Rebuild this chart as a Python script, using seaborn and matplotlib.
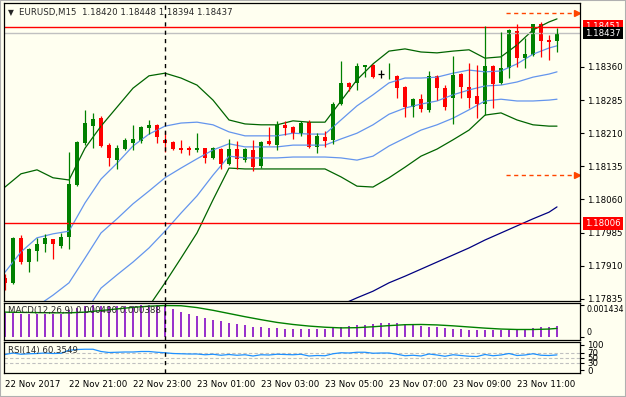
import numpy as np
import pandas as pd
import matplotlib
matplotlib.use("Agg")
from matplotlib import pyplot as plt
import seaborn as sns

# EURUSD M15 candles, 22 Nov 19:00 -> 23 Nov 12:15
opens = [1.17882, 1.17871, 1.17973, 1.17918, 1.17943, 1.17959, 1.17970, 1.17954, 1.17975, 1.18093,
         1.18188, 1.18226, 1.18244, 1.18183, 1.18149, 1.18174, 1.18188, 1.18192, 1.18222, 1.18229,
         1.18195, 1.18190, 1.18176, 1.18176, 1.18172, 1.18176, 1.18154, 1.18174, 1.18140, 1.18174,
         1.18149, 1.18172, 1.18136, 1.18192, 1.18183, 1.18229, 1.18224, 1.18208, 1.18235, 1.18179,
         1.18201, 1.18195, 1.18276, 1.18324, 1.18324, 1.18360, 1.18365, 1.18343, 1.18339, 1.18340,
         1.18315, 1.18269, 1.18287, 1.18263, 1.18340, 1.18312, 1.18290, 1.18344, 1.18315, 1.18294,
         1.18276, 1.18362, 1.18324, 1.18358, 1.18442, 1.18380, 1.18387, 1.18457, 1.18421, 1.18420]
highs = [1.17891, 1.17975, 1.17979, 1.17950, 1.17973, 1.17982, 1.17971, 1.17984, 1.18167, 1.18192,
         1.18263, 1.18256, 1.18249, 1.18188, 1.18183, 1.18199, 1.18229, 1.18226, 1.18240, 1.18231,
         1.18215, 1.18192, 1.18195, 1.18181, 1.18210, 1.18177, 1.18179, 1.18176, 1.18197, 1.18192,
         1.18176, 1.18195, 1.18192, 1.18224, 1.18238, 1.18238, 1.18226, 1.18238, 1.18240, 1.18210,
         1.18215, 1.18281, 1.18374, 1.18326, 1.18369, 1.18365, 1.18367, 1.18353, 1.18369, 1.18342,
         1.18317, 1.18289, 1.18299, 1.18351, 1.18342, 1.18319, 1.18385, 1.18346, 1.18369, 1.18365,
         1.18453, 1.18365, 1.18439, 1.18446, 1.18457, 1.18426, 1.18458, 1.18462, 1.18433, 1.18448]
lows = [1.17855, 1.17869, 1.17914, 1.17895, 1.17920, 1.17941, 1.17925, 1.17950, 1.17948, 1.18090,
        1.18183, 1.18176, 1.18179, 1.18136, 1.18129, 1.18172, 1.18172, 1.18188, 1.18208, 1.18188,
        1.18167, 1.18172, 1.18165, 1.18161, 1.18167, 1.18142, 1.18152, 1.18129, 1.18138, 1.18129,
        1.18145, 1.18124, 1.18131, 1.18183, 1.18172, 1.18206, 1.18197, 1.18204, 1.18176, 1.18165,
        1.18179, 1.18186, 1.18274, 1.18306, 1.18308, 1.18337, 1.18335, 1.18335, 1.18333, 1.18290,
        1.18247, 1.18247, 1.18258, 1.18258, 1.18285, 1.18263, 1.18231, 1.18290, 1.18267, 1.18244,
        1.18251, 1.18267, 1.18322, 1.18335, 1.18360, 1.18358, 1.18385, 1.18383, 1.18376, 1.18394]
closes = [1.17871, 1.17973, 1.17918, 1.17948, 1.17959, 1.17973, 1.17959, 1.17975, 1.18095, 1.18190,
          1.18233, 1.18242, 1.18181, 1.18154, 1.18176, 1.18195, 1.18197, 1.18224, 1.18229, 1.18201,
          1.18188, 1.18174, 1.18172, 1.18172, 1.18176, 1.18154, 1.18176, 1.18140, 1.18174, 1.18152,
          1.18174, 1.18133, 1.18190, 1.18186, 1.18229, 1.18222, 1.18210, 1.18233, 1.18179, 1.18204,
          1.18192, 1.18276, 1.18324, 1.18315, 1.18362, 1.18365, 1.18337, 1.18343, 1.18340, 1.18312,
          1.18269, 1.18287, 1.18265, 1.18340, 1.18312, 1.18269, 1.18342, 1.18315, 1.18290, 1.18276,
          1.18362, 1.18321, 1.18358, 1.18444, 1.18380, 1.18389, 1.18457, 1.18419, 1.18417, 1.18437]

# indicator lines read every second bar
line_bars = [0, 2, 4, 6, 8, 10, 12, 14, 16, 18, 20, 22, 24, 26, 28, 30, 32, 34,
             36, 38, 40, 42, 44, 46, 48, 50, 52, 54, 56, 58, 60, 62, 64, 66, 68, 69]
bb2_upper = [1.18088, 1.18118, 1.18127, 1.18109, 1.18104, 1.18176, 1.18226, 1.18269, 1.18312, 1.18340,
             1.18346, 1.18335, 1.18319, 1.18285, 1.18240, 1.18231, 1.18229, 1.18229, 1.18238, 1.18235,
             1.18235, 1.18283, 1.18331, 1.18367, 1.18396, 1.18401, 1.18394, 1.18392, 1.18396, 1.18399,
             1.18380, 1.18383, 1.18410, 1.18444, 1.18462, 1.18469]
bb1_upper = [1.17895, 1.17941, 1.17973, 1.17982, 1.17988, 1.18052, 1.18106, 1.18142, 1.18181, 1.18208,
             1.18226, 1.18233, 1.18235, 1.18229, 1.18213, 1.18204, 1.18204, 1.18204, 1.18210, 1.18208,
             1.18208, 1.18240, 1.18272, 1.18297, 1.18324, 1.18335, 1.18335, 1.18337, 1.18346, 1.18353,
             1.18349, 1.18351, 1.18367, 1.18389, 1.18403, 1.18408]
bb_mid = [1.17703, 1.17764, 1.17818, 1.17843, 1.17871, 1.17927, 1.17984, 1.18016, 1.18050, 1.18079,
          1.18109, 1.18131, 1.18152, 1.18172, 1.18186, 1.18179, 1.18179, 1.18179, 1.18183, 1.18183,
          1.18183, 1.18197, 1.18210, 1.18229, 1.18253, 1.18267, 1.18276, 1.18283, 1.18297, 1.18308,
          1.18317, 1.18319, 1.18326, 1.18337, 1.18344, 1.18349]
bb1_lower = [np.nan, np.nan, np.nan, np.nan, 1.17753, 1.17803, 1.17859, 1.17889, 1.17918, 1.17950,
             1.17988, 1.18029, 1.18068, 1.18115, 1.18158, 1.18154, 1.18154, 1.18154, 1.18156, 1.18156,
             1.18156, 1.18154, 1.18149, 1.18158, 1.18181, 1.18199, 1.18217, 1.18229, 1.18244, 1.18263,
             1.18283, 1.18287, 1.18283, 1.18283, 1.18285, 1.18287]
bb2_lower = [np.nan, np.nan, np.nan, np.nan, np.nan, np.nan, 1.17741, 1.17762, 1.17787, 1.17818,
             1.17871, 1.17927, 1.17984, 1.18059, 1.18131, 1.18129, 1.18129, 1.18129, 1.18129, 1.18129,
             1.18129, 1.18111, 1.18090, 1.18088, 1.18109, 1.18133, 1.18158, 1.18174, 1.18195, 1.18217,
             1.18251, 1.18256, 1.18240, 1.18229, 1.18226, 1.18226]
ma_slow = [np.nan] * 21 + [1.17821, 1.17837, 1.17852, 1.17871, 1.17886, 1.17902, 1.17918, 1.17934,
                           1.17950, 1.17968, 1.17984, 1.18000, 1.18016, 1.18031, 1.18043]

macd_main = [0.00105, 0.00106, 0.00104, 0.00104, 0.00104, 0.00104, 0.00103, 0.00104, 0.00118, 0.00128,
             0.00136, 0.00140, 0.00139, 0.00137, 0.00136, 0.00137, 0.00138, 0.00141, 0.00143, 0.001434,
             0.00140, 0.00122, 0.00110, 0.00102, 0.00093, 0.00085, 0.00077, 0.00072, 0.00063, 0.00058,
             0.00052, 0.00047, 0.00043, 0.00042, 0.00040, 0.00038, 0.00037, 0.00037, 0.00037, 0.00037,
             0.00037, 0.00040, 0.00045, 0.00050, 0.00052, 0.00055, 0.00060, 0.00063, 0.00063, 0.00063,
             0.00060, 0.00055, 0.00050, 0.00047, 0.00043, 0.00040, 0.00038, 0.00037, 0.00033, 0.00032,
             0.00030, 0.00030, 0.00030, 0.00032, 0.00033, 0.00037, 0.00040, 0.00043, 0.00045, 0.00048]
macd_signal = [0.00110, 0.00109, 0.00108, 0.00107, 0.00107, 0.00110, 0.00117, 0.00124, 0.00131, 0.00136,
               0.00139, 0.00138, 0.00130, 0.00118, 0.00104, 0.00090, 0.00077, 0.00065, 0.00056, 0.00049,
               0.00044, 0.00041, 0.00042, 0.00046, 0.00051, 0.00055, 0.00056, 0.00054, 0.00050, 0.00045,
               0.00040, 0.00036, 0.00034, 0.00034, 0.00036, 0.000388]
rsi = [62, 68, 63, 65, 66, 68, 66, 67, 79, 82, 83, 83, 74, 70, 71, 72, 72, 74, 74, 71,
       69, 66, 65, 64, 64, 61, 63, 59, 62, 59, 61, 56, 61, 60, 63, 62, 61, 63, 56, 58,
       57, 65, 69, 68, 71, 71, 67, 68, 68, 63, 57, 59, 56, 64, 60, 55, 61, 58, 55, 54,
       62, 57, 60, 66, 58, 60, 65, 59, 58, 60.35]

price_ticks = [1.18360, 1.18285, 1.18210, 1.18135, 1.18060, 1.17985, 1.17910, 1.17835]
time_ticks = [0, 8, 16, 24, 32, 40, 48, 56, 64]
time_labels = ["22 Nov 2017", "22 Nov 21:00", "22 Nov 23:00", "23 Nov 01:00", "23 Nov 03:00",
               "23 Nov 05:00", "23 Nov 07:00", "23 Nov 09:00", "23 Nov 11:00"]
hline_up = 1.18451
hline_dn = 1.18006
bid = 1.18437
alert_up = 1.18482
alert_dn = 1.18115
day_sep = 20

sns.set_style("white")
plt.rcParams['font.family'] = ['DejaVu Sans']
FS = 6.2
BG = '#FFFFF0'
W, H = 626, 397


def box(x0, y0, x1, y1):
    return [x0 / W, 1 - y1 / H, (x1 - x0) / W, (y1 - y0) / H]


fig = plt.figure(figsize=(W / 100, H / 100), dpi=100, facecolor=BG)
ax = fig.add_axes(box(4, 3, 580, 301), facecolor=BG)
ax2 = fig.add_axes(box(4, 303, 580, 340), facecolor=BG)
ax3 = fig.add_axes(box(4, 342, 580, 373), facecolor=BG)

df = pd.DataFrame({"o": opens, "h": highs, "l": lows, "c": closes})
df["bar"] = np.arange(len(df))
col = np.where(df.c > df.o, '#008000', np.where(df.c < df.o, '#FF0000', '#000000'))

# indicator lines behind the candles
lines = pd.DataFrame({"bar": line_bars, "ub2": bb2_upper, "ub1": bb1_upper, "mid": bb_mid,
                      "lb1": bb1_lower, "lb2": bb2_lower, "ma": ma_slow})
for name, c in [("ub2", '#006400'), ("lb2", '#006400'), ("ub1", '#6495ED'),
                ("mid", '#6495ED'), ("lb1", '#6495ED'), ("ma", '#000080')]:
    sns.lineplot(data=lines, x="bar", y=name, ax=ax, color=c, lw=0.9, legend=False)

ax.axhline(bid, color='#C0C0C0', lw=1)
ax.axhline(hline_up, color='#FF0000', lw=1)
ax.axhline(hline_dn, color='#FF0000', lw=1)

ax.vlines(df.bar, df.l, df.h, colors=col, lw=0.9)
ax.bar(df.bar, (df.c - df.o).abs(), bottom=np.minimum(df.o, df.c), width=0.62, color=col, lw=0)
dj = df[df.c == df.o]
ax.hlines(dj.c, dj.bar - 0.35, dj.bar + 0.35, colors='black', lw=0.9)

for lvl in (alert_up, alert_dn):
    ax.plot([62.6, 71.3], [lvl, lvl], color='#FF4500', lw=1, ls=(0, (3, 2.5)))
    ax.plot([71.5], [lvl], marker='>', ms=4.5, color='#FF4500', mec='#FF4500', clip_on=False)

ax.set_xlim(-0.125, 71.875)
ax.set_ylim(1.178298, 1.185050)

# MACD
ax2.bar(df.bar, macd_main, width=0.22, color='#9932CC', lw=0)
sns.lineplot(x=line_bars, y=macd_signal, ax=ax2, color='#008000', lw=1, legend=False)
ax2.set_xlim(-0.125, 71.875)
ax2.set_ylim(-0.00012, 0.00150)

# RSI
for lv in (70, 50, 30):
    ax3.axhline(lv, color='#C0C0C0', lw=0.8, ls=(0, (3, 2)))
sns.lineplot(x=df.bar, y=rsi, ax=ax3, color='#1E90FF', lw=0.9, legend=False)
ax3.set_xlim(-0.125, 71.875)
ax3.set_ylim(-12, 112)

for a in (ax, ax2, ax3):
    a.axvline(day_sep, color='black', lw=1, ls=(0, (3, 3)))
    for s in a.spines.values():
        s.set_color('black')
        s.set_linewidth(0.9)
    a.yaxis.tick_right()
    a.tick_params(axis='y', direction='out', length=3, width=0.8, pad=2, labelsize=FS, colors='black')
    a.set_xlabel("")
    a.set_ylabel("")

ax.set_yticks(price_ticks)
ax.set_yticklabels([f"{p:.5f}" for p in price_ticks])
ax.set_xticks([])
ax2.set_yticks([0, 0.001434])
ax2.set_yticklabels(["0", "0.001434"])
ax2.tick_params(axis='y', labelsize=5.7)
lab0, labmax = ax2.get_yticklabels()
lab0.set_va('bottom')
labmax.set_va('top')
ax2.set_xticks([])
ax3.set_yticks([0, 30, 50, 70, 100])
ax3.set_yticklabels(["0", "30", "50", "70", "100"])
ax3.set_xticks(time_ticks)
ax3.set_xticklabels(time_labels, ha='left')
ax3.tick_params(axis='x', direction='out', length=3, width=0.8, pad=2, labelsize=FS, colors='black')

# price tags on the axis
for val, fc in [(hline_up, '#FF0000'), (bid, '#000000'), (hline_dn, '#FF0000')]:
    ax.text(1.0 + 5 / 576, val, f"{val:.5f}", transform=ax.get_yaxis_transform(), fontsize=FS,
            color='white', va='center', ha='left',
            bbox=dict(boxstyle='square,pad=0.22', fc=fc, ec='none'))

fig.text(8 / W, 1 - 13 / H, "\u25bc", fontsize=5.5, va='center', ha='left')
fig.text(19 / W, 1 - 13 / H, "EURUSD,M15  1.18420 1.18448 1.18394 1.18437", fontsize=FS,
         va='center', ha='left')
fig.text(8 / W, 1 - 311 / H, "MACD(12,26,9) 0.000480 0.000388", fontsize=FS, va='center', ha='left')
fig.text(8 / W, 1 - 351 / H, "RSI(14) 60.3549", fontsize=FS, va='center', ha='left')

fig.patches.append(plt.Rectangle((0, 0), 1, 1, transform=fig.transFigure, fill=False,
                                 ec='#B0B0B0', lw=1.5))

fig.savefig("out.png", dpi=100, facecolor=BG)
